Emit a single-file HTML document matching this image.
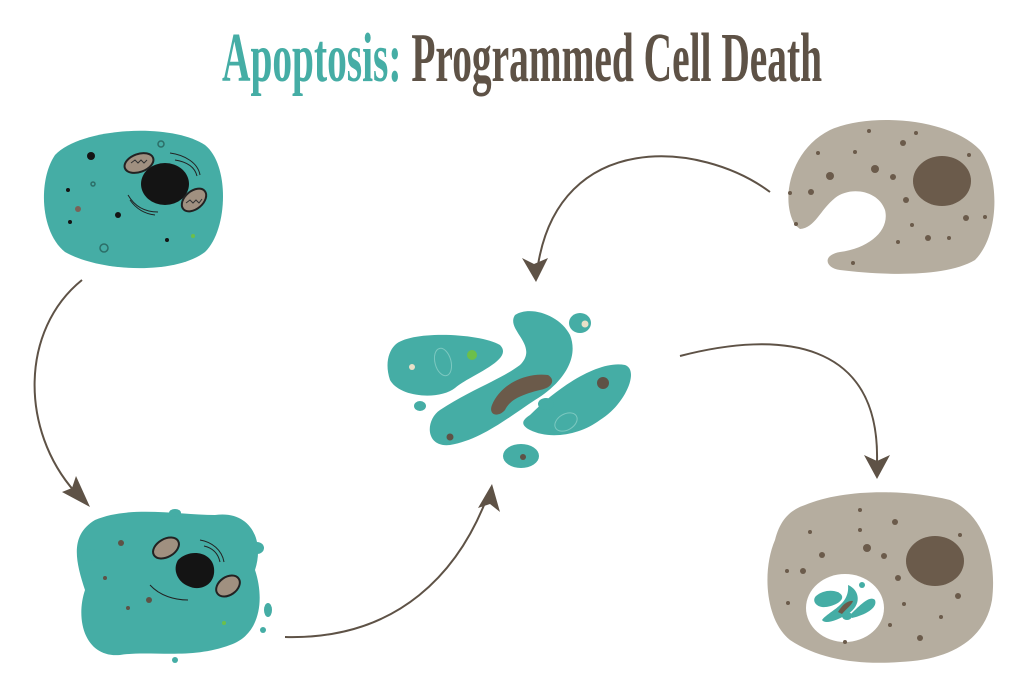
<!DOCTYPE html>
<html><head><meta charset="utf-8"><style>html,body{margin:0;padding:0;background:#fff}svg{display:block}</style></head>
<body>
<svg width="1024" height="683" viewBox="0 0 1024 683" xmlns="http://www.w3.org/2000/svg">
<text x="222" y="81" font-family="Liberation Serif, serif" font-weight="bold" font-size="70" textLength="600" lengthAdjust="spacingAndGlyphs"><tspan fill="#45ADA5">Apoptosis:</tspan><tspan fill="#5E5246"> Programmed Cell Death</tspan></text>

<!-- Arrows -->
<g fill="none" stroke="#5E5246" stroke-width="2">
<path d="M82,280 C20,330 20,430 75,492"/>
<path d="M285,637 C400,640 460,570 488,495"/>
<path d="M770,192 C700,140 560,130 538,265"/>
<path d="M680,356 C780,330 880,340 877,462"/>
</g>
<g fill="#5E5246">
<polygon points="90,507 62,492 72,488 76,476"/>
<polygon points="492,484 500,512 490,504 478,508"/>
<polygon points="536,282 522,258 534,264 548,258"/>
<polygon points="877,479 864,455 877,461 890,455"/>
</g>

<!-- Cell 1 -->
<path d="M55,155 C80,128 170,122 205,145 C230,165 228,230 205,252 C175,275 100,272 65,252 C40,232 38,180 55,155Z" fill="#45ADA5"/>
<ellipse cx="165" cy="184" rx="24" ry="21" fill="#141414"/>
<g fill="#141414"><circle cx="91" cy="156" r="4"/><circle cx="68" cy="190" r="2"/><circle cx="70" cy="222" r="2"/><circle cx="118" cy="215" r="3"/><circle cx="167" cy="240" r="2"/></g>
<circle cx="78" cy="209" r="3" fill="#7a6258"/>
<circle cx="193" cy="236" r="2" fill="#6cbf4a"/>
<g fill="none" stroke="#2c6e68" stroke-width="1.5"><circle cx="161" cy="144" r="3"/><circle cx="104" cy="248" r="4"/><circle cx="93" cy="184" r="2"/></g>
<g fill="#a09080" stroke="#222" stroke-width="2"><ellipse cx="139" cy="163" rx="15" ry="9" transform="rotate(-20 139 163)"/><ellipse cx="194" cy="200" rx="14" ry="9" transform="rotate(-40 194 200)"/></g>
<g fill="none" stroke="#333" stroke-width="1"><path d="M131,163 l4,-3 l3,3 l3,-3 l3,3 l3,-3"/><path d="M186,203 l4,-3 l3,3 l3,-3 l3,3 l3,-4"/></g>
<g fill="none" stroke="#222" stroke-width="1"><path d="M170,153 C185,155 198,163 200,175"/><path d="M175,160 C188,162 195,168 197,176"/><path d="M128,195 C135,207 145,212 158,212"/><path d="M130,200 C137,210 146,214 155,215"/></g>

<!-- Cell 2 -->
<path d="M95,520 C130,505 180,515 215,515 C250,510 265,540 255,570 C265,600 260,635 230,645 C190,660 150,650 120,655 C85,658 75,620 85,590 C75,560 70,535 95,520Z" fill="#45ADA5"/>
<g fill="#45ADA5"><ellipse cx="90" cy="555" rx="9" ry="6"/><ellipse cx="257" cy="548" rx="7" ry="6"/><ellipse cx="268" cy="610" rx="4" ry="7"/><ellipse cx="175" cy="513" rx="6" ry="4"/><circle cx="175" cy="660" r="3"/><circle cx="263" cy="630" r="3"/></g>
<path d="M178,560 C190,548 212,552 214,568 C216,585 200,592 188,586 C178,582 172,570 178,560Z" fill="#141414"/>
<g fill="#a09080" stroke="#222" stroke-width="2"><ellipse cx="166" cy="548" rx="14" ry="9" transform="rotate(-30 166 548)"/><ellipse cx="228" cy="586" rx="13" ry="9" transform="rotate(-35 228 586)"/></g>
<g fill="none" stroke="#222" stroke-width="1"><path d="M200,540 C212,542 222,550 224,562"/><path d="M204,546 C213,548 218,553 220,562"/><path d="M150,585 C160,596 175,600 188,600"/></g>
<g fill="#5E5246"><circle cx="121" cy="543" r="3"/><circle cx="105" cy="578" r="2"/><circle cx="149" cy="600" r="3"/><circle cx="128" cy="608" r="2"/></g>
<circle cx="224" cy="623" r="2" fill="#6cbf4a"/>

<!-- Center fragments -->
<g fill="#45ADA5">
<path d="M395,345 C410,330 480,333 500,345 C515,360 470,375 455,388 C440,400 400,398 390,380 C385,365 388,352 395,345Z"/>
<path d="M515,315 C530,305 560,315 570,335 C580,360 560,385 535,400 C505,420 480,440 450,445 C425,448 425,420 440,410 C470,390 500,380 520,365 C540,345 505,330 515,315Z"/>
<path d="M530,415 C560,385 600,360 625,365 C640,370 625,405 600,420 C580,435 550,440 530,430 C520,425 522,420 530,415Z"/>
<ellipse cx="521" cy="456" rx="18" ry="12"/>
<ellipse cx="580" cy="323" rx="11" ry="10"/>
<ellipse cx="420" cy="406" rx="6" ry="5"/>
<ellipse cx="546" cy="404" rx="8" ry="6"/>
</g>
<path d="M492,405 C500,385 525,372 548,375 C556,380 552,388 540,390 C520,395 510,400 505,410 C498,418 488,415 492,405Z" fill="#6b5a4a"/>
<g fill="#5E5246"><circle cx="450" cy="437" r="3.5"/><circle cx="603" cy="383" r="6"/><circle cx="523" cy="457" r="3"/></g>
<circle cx="412" cy="367" r="3" fill="#e8e0c8"/><circle cx="585" cy="324" r="3.5" fill="#e8e0c8"/>
<circle cx="472" cy="355" r="5" fill="#6cbf4a"/>
<g fill="none" stroke="#7cc8c0" stroke-width="1"><ellipse cx="443" cy="362" rx="8" ry="14" transform="rotate(-15 443 362)"/><ellipse cx="566" cy="422" rx="12" ry="8" transform="rotate(-30 566 422)"/></g>

<!-- Grey cell top right -->
<path d="M795,225 C780,200 790,150 830,130 C870,112 950,118 980,150 C1000,175 1000,235 975,260 C945,278 880,275 840,270 C825,268 822,255 840,252 C870,248 890,230 885,210 C878,190 850,186 835,198 C820,210 815,228 800,229 Z" fill="#B5AD9F"/>
<ellipse cx="942" cy="181" rx="29" ry="25" fill="#6b5b4b"/>
<g fill="#6b5b4b"><circle cx="830" cy="176" r="4"/><circle cx="875" cy="169" r="4"/><circle cx="818" cy="153" r="2"/><circle cx="855" cy="152" r="2"/><circle cx="869" cy="131" r="2"/><circle cx="903" cy="143" r="3"/><circle cx="916" cy="133" r="2"/><circle cx="893" cy="177" r="3"/><circle cx="906" cy="200" r="3"/><circle cx="912" cy="225" r="2"/><circle cx="898" cy="242" r="2"/><circle cx="928" cy="238" r="3"/><circle cx="949" cy="238" r="2"/><circle cx="966" cy="218" r="3"/><circle cx="985" cy="217" r="2"/><circle cx="969" cy="155" r="2"/><circle cx="811" cy="192" r="3"/><circle cx="790" cy="193" r="2"/><circle cx="796" cy="224" r="2"/><circle cx="853" cy="263" r="2"/></g>

<!-- Grey cell bottom right -->
<path d="M805,505 C840,490 900,488 950,500 C985,515 997,560 992,600 C985,640 950,660 900,662 C860,665 820,660 790,640 C765,620 762,570 775,540 C780,520 790,510 805,505Z" fill="#B5AD9F"/>
<ellipse cx="935" cy="561" rx="29" ry="25" fill="#6b5b4b"/>
<ellipse cx="845" cy="608" rx="39" ry="34" fill="#fff"/>
<g fill="#45ADA5"><path d="M816,596 C825,588 840,590 842,596 C844,602 830,608 822,607 C815,606 812,600 816,596Z"/><path d="M848,585 C860,590 862,605 848,614 C838,620 825,625 822,620 C830,610 850,605 848,585Z"/><path d="M850,615 C860,605 870,595 875,600 C878,608 865,615 852,618Z"/><ellipse cx="847" cy="616" rx="5" ry="4"/><circle cx="862" cy="585" r="3"/></g>
<path d="M838,612 C842,605 848,600 853,601 C852,605 845,610 842,614Z" fill="#6b5a4a"/>
<g fill="#6b5b4b"><circle cx="867" cy="548" r="4"/><circle cx="822" cy="555" r="3"/><circle cx="803" cy="571" r="3"/><circle cx="898" cy="578" r="3"/><circle cx="884" cy="556" r="3"/><circle cx="895" cy="522" r="3"/><circle cx="860" cy="530" r="2"/><circle cx="810" cy="532" r="2"/><circle cx="860" cy="510" r="2"/><circle cx="958" cy="596" r="3"/><circle cx="941" cy="617" r="2"/><circle cx="920" cy="638" r="3"/><circle cx="890" cy="625" r="2"/><circle cx="904" cy="604" r="2"/><circle cx="787" cy="571" r="2"/><circle cx="788" cy="603" r="2"/><circle cx="845" cy="642" r="2"/><circle cx="960" cy="535" r="2"/></g>
</svg>
</body></html>
